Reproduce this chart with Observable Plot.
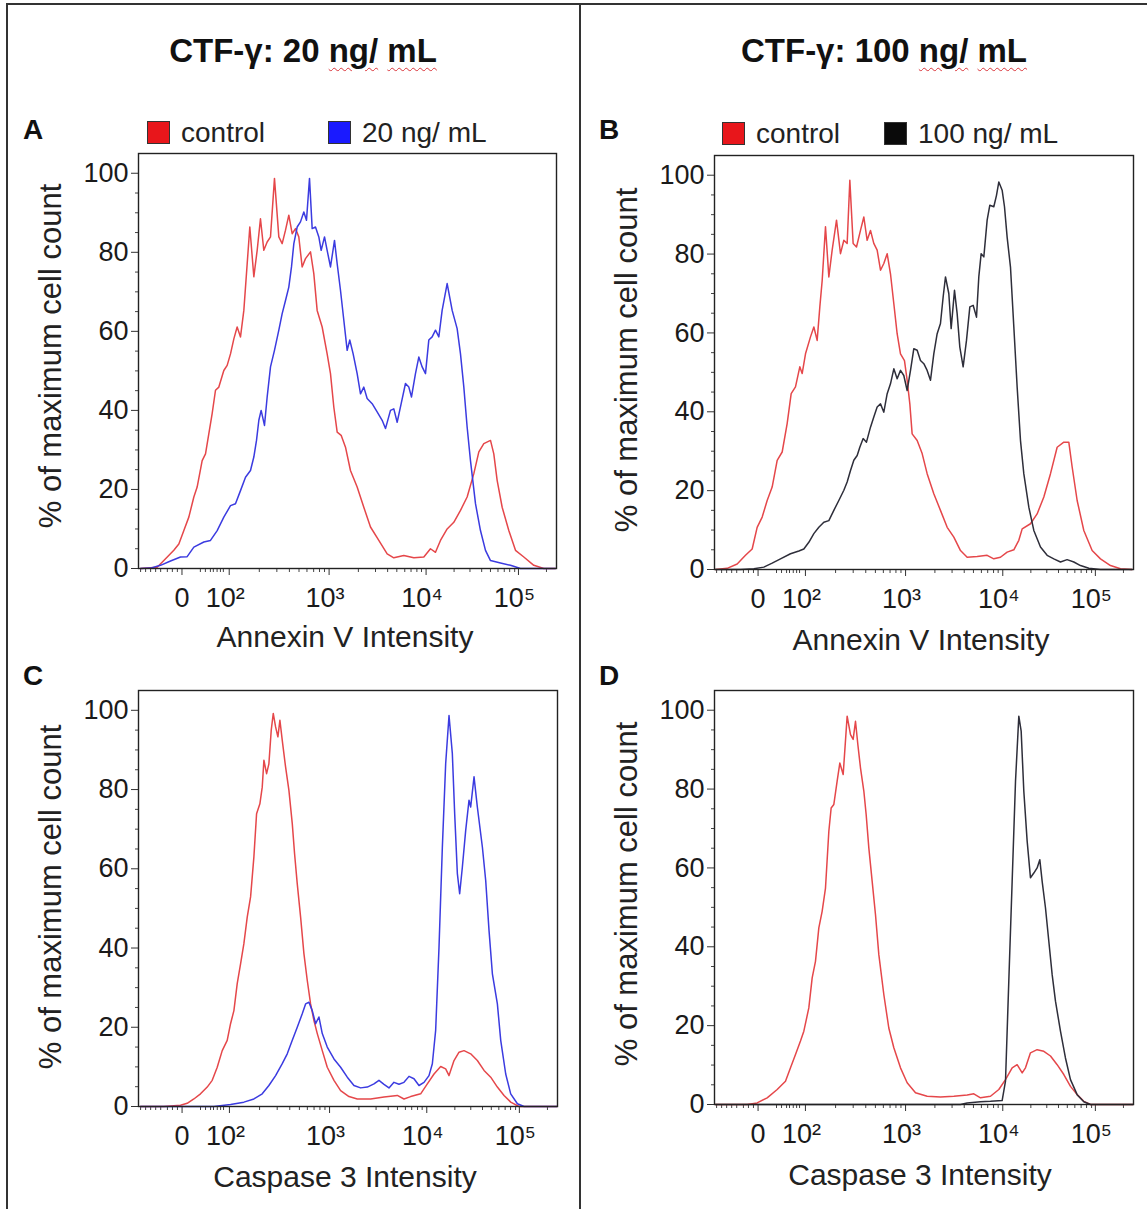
<!DOCTYPE html>
<html><head><meta charset="utf-8">
<script src="https://cdn.jsdelivr.net/npm/d3@7"></script>
<script src="https://cdn.jsdelivr.net/npm/@observablehq/plot@0.6"></script>
<style>
body{margin:0;background:#fff;}
#root{position:relative;width:1147px;height:1209px;background:#fff;font-family:"Liberation Sans",Arial,Helvetica,sans-serif;color:#111;overflow:hidden}
.abs{position:absolute;white-space:nowrap;line-height:1}
.ctr{transform:translate(-50%,-50%)}
.vctr{transform:translateY(-50%)}
.rot{transform:translate(-50%,-50%) rotate(-90deg)}
.title{font-weight:bold;font-size:33px}
.wavy{text-decoration:underline wavy #d9343a;text-decoration-thickness:1px;text-underline-offset:5px}
.letter{font-weight:bold;font-size:28px}
.leg{font-size:28px;color:#222}
.sw{position:absolute;width:23px;height:23px;border:1.5px solid #333;box-sizing:border-box}
.ytitle{font-size:31px;color:#222}
.xtitle{font-size:30px;color:#222}
.line{position:absolute;background:#333}
.plot{position:absolute}
</style></head><body><div id="root"></div>
<script>
// ---------- axis definitions (x in display channels 0..1000 of a biexponential axis) ----------
const xTickPos = [104, 217, 456, 688, 909];
const xTickLabels = ["0", "10²", "10³", "10⁴", "10⁵"];
const xMinorPos = [5, 17, 29, 41, 53, 69, 81, 93, 148, 160, 172, 179, 188, 196, 203,
  289, 331, 361, 384, 403, 419, 433, 445,
  526, 567, 596, 618, 637, 652, 666, 677,
  755, 793, 821, 842, 860, 875, 888, 900, 976];
const yMajor = [0, 20, 40, 60, 80, 100];
const yMinor = [5, 10, 15, 25, 30, 35, 45, 50, 55, 65, 70, 75, 85, 90, 95];

// ---------- panel titles / labels ----------
const panelTitles = ["CTF-γ: 20 ", "CTF-γ: 100 "];
const legendLabels = [["control", "20 ng/ mL"], ["control", "100 ng/ mL"]];
const xTitles = ["Annexin V Intensity", "Caspase 3 Intensity"];
const yTitle = "% of maximum cell count";
const colors = {control: "#e5474a", t20: "#3b3be0", t100: "#2e2e3a"};

// ---------- data: [channel, % of max] ----------
const annexinControl20 = [[5,0],[44.7,0.3],[60.6,2.0],[84.5,4.6],[96.5,6.2],[108.5,9.6],[120.4,13.0],[132.4,18.1],[140.3,20.6],[152.3,27.3],[160.3,29.0],[168.3,34.1],[176.2,39.2],[184.2,45.1],[192.2,45.9],[204.1,50.1],[212.1,51.4],[220.1,54.3],[228.1,58.1],[236,61.1],[244,58.6],[252,65.3],[260,77.1],[266.3,86.4],[275.9,73.8],[283.9,80.5],[291.8,88.5],[299.8,80.5],[307.8,82.6],[315.8,83.9],[325.3,98.7],[335.7,83.9],[343.7,82.2],[351.7,85.6],[359.6,89.4],[367.6,84.7],[375.6,86.0],[383.5,83.9],[391.5,76.3],[399.5,78.4],[411.5,80.1],[419.4,74.6],[427.4,65.3],[439.4,61.1],[451.3,54.3],[459.3,49.3],[467.3,40.8],[475.3,34.5],[484.8,33.7],[495.2,30.7],[507.1,24.8],[523.1,20.6],[539,15.5],[555,10.5],[574.9,7.1],[594.9,3.7],[610.8,2.7],[634.7,3.3],[658.7,2.7],[682.6,2.9],[698.5,5.0],[710.5,4.1],[722.4,7.1],[738.4,10.0],[754.3,11.7],[770.3,14.7],[786.2,18.1],[802.2,24.0],[814.2,29.5],[826.1,31.6],[842.1,32.4],[850,29.0],[858,22.3],[870,15.5],[885.9,9.6],[901.9,4.6],[921.8,2.9],[945.7,0.8],[969.6,0],[997.5,0]];
const annexinTreated20 = [[5,0],[28.7,0.1],[52.6,0.8],[76.6,1.9],[100.5,2.9],[116.4,3.0],[132.4,5.4],[156.3,6.7],[172.2,7.1],[188.2,9.6],[204.1,13.0],[220.1,15.9],[232,16.4],[244,19.7],[256,23.1],[267.9,24.8],[275.9,28.2],[282.3,32.4],[287.9,37.5],[293.4,40.0],[301.4,36.2],[307.8,43.4],[315.8,51.0],[325.3,55.2],[335.7,60.3],[343.7,64.5],[351.7,67.8],[359.6,71.2],[366,76.3],[371.6,82.2],[379.6,86.4],[387.5,87.7],[395.5,90.2],[401.9,88.1],[409.1,98.7],[415.5,86.0],[423.4,86.4],[431.4,83.9],[437,80.5],[445,83.9],[451.3,80.5],[459.3,76.3],[468.9,83.0],[475.3,77.1],[483.2,70.4],[491.2,62.8],[499.2,55.2],[505.5,57.8],[513.5,54.3],[523.1,49.3],[531.1,44.2],[539,45.9],[547,43.0],[559,41.7],[570.9,39.6],[582.9,37.5],[590.9,35.4],[602.8,40.0],[610.8,40.4],[618.8,37.0],[628.4,41.7],[638.7,46.8],[646.7,45.9],[653.1,43.4],[662.6,49.3],[670.6,53.5],[678.6,51.0],[686.6,49.3],[694.5,57.8],[702.5,58.6],[710.5,60.3],[718.5,58.6],[726.4,65.3],[738.4,72.1],[750.4,65.3],[762.3,60.7],[770.3,54.3],[778.3,45.9],[786.2,35.8],[794.2,27.3],[806.2,16.4],[818.1,9.6],[830.1,4.6],[842.1,2.0],[866,1.4],[889.9,0.8],[913.8,0],[997.5,0]];
const annexinControl100 = [[2.4,0],[30.2,0.3],[54.1,1.4],[74,3.6],[89.9,5.2],[101.8,10.7],[113.8,13.3],[125.7,17.5],[137.6,20.9],[149.6,27.7],[161.5,29.8],[173.4,37.0],[183,44.6],[193.3,46.3],[203.6,51.4],[209.2,49.7],[217.2,54.7],[229.1,59.0],[237.1,61.5],[245,58.1],[251.4,66.6],[257,73.3],[264.9,86.9],[272.9,74.2],[280.8,81.0],[291.2,88.6],[300.7,80.1],[308.7,83.5],[316.6,82.7],[323,98.7],[330.9,82.7],[338.9,81.8],[348.4,86.0],[356.4,89.4],[364.3,83.5],[372.3,86.0],[380.2,82.7],[388.2,81.0],[396.2,75.9],[404.1,77.6],[412.1,80.1],[420,75.0],[428,67.4],[435.9,59.8],[443.9,54.7],[453.4,53.0],[459.8,48.0],[466.2,42.0],[471.7,34.4],[483.7,32.7],[495.6,29.4],[507.5,24.3],[523.4,19.2],[539.3,15.0],[555.3,10.7],[571.2,8.2],[587.1,4.8],[603,3.1],[626.9,3.3],[650.7,3.6],[666.6,2.7],[682.5,3.1],[698.4,4.4],[714.4,5.0],[726.3,7.4],[734.3,10.3],[754.1,11.6],[770,14.1],[786,18.4],[801.9,24.3],[817.8,31.0],[833.7,32.3],[845.6,32.3],[853.6,26.0],[865.5,17.5],[881.4,9.9],[901.3,4.8],[921.2,2.7],[945.1,1.0],[969,0.2],[996.8,0]];
const annexinTreated100 = [[2.4,0],[62,0],[93.9,0.2],[117.7,0.6],[137.6,1.6],[157.5,2.7],[181.4,4.0],[201.3,4.7],[213.2,5.2],[225.1,6.9],[237.1,9.1],[249,10.7],[260.9,12.0],[272.9,12.4],[284.8,15.0],[296.7,17.5],[308.7,20.1],[316.6,22.2],[324.6,25.1],[332.5,27.7],[340.5,28.9],[346.8,31.0],[354.8,33.2],[362.7,32.3],[372.3,36.1],[380.2,38.7],[388.2,41.2],[396.2,42.0],[404.1,39.9],[412.1,44.6],[420,47.1],[428,50.9],[435.9,48.4],[443.9,50.5],[451.8,49.2],[459.8,45.4],[467.8,50.5],[475.7,56.0],[483.7,55.6],[491.6,53.0],[499.6,52.2],[507.5,50.5],[515.5,48.0],[523.4,54.7],[531.4,59.8],[539.3,62.4],[545.7,69.1],[551.3,74.2],[559.2,70.0],[564.8,61.1],[572.8,70.8],[579.1,64.9],[585.5,56.4],[593.4,51.4],[601.4,58.1],[609.4,66.6],[617.3,67.0],[625.3,64.0],[630.8,74.2],[636.4,80.1],[642.8,79.3],[650.7,88.6],[657.1,92.4],[666.6,92.0],[673,94.9],[678.6,98.3],[686.5,96.2],[692.1,92.0],[698.4,84.3],[706.4,76.7],[714.4,61.5],[722.3,46.3],[730.3,32.7],[738.2,24.3],[750.2,15.8],[762.1,9.9],[778,5.7],[793.9,3.6],[809.8,2.7],[825.7,1.9],[841.6,2.5],[857.6,1.9],[873.5,1.0],[893.4,0.3],[921.2,0],[996.8,0]];
const caspaseControl20 = [[4.8,0],[60.5,0],[100.3,0.3],[116.2,0.8],[132.1,1.9],[148,3.2],[164,4.9],[175.9,6.6],[187.9,9.9],[199.8,14.1],[211.7,16.7],[219.7,20.9],[227.7,24.2],[235.6,31.0],[243.6,36.0],[251.5,41.1],[259.5,47.8],[267.5,52.9],[275.4,63.0],[281.8,73.9],[289.7,76.4],[295.3,80.6],[299.3,87.4],[305.7,84.0],[311.2,86.5],[316.8,95.0],[321.6,99.2],[327.2,95.8],[332.7,93.3],[337.5,97.5],[343.1,92.4],[351,85.7],[359,79.8],[367,71.4],[372.5,63.8],[378.9,56.2],[386.9,47.8],[394.8,38.6],[402.8,31.8],[410.7,25.9],[418.7,21.7],[426.7,18.4],[438.6,14.1],[450.5,9.9],[466.5,6.6],[482.4,4.0],[502.3,2.5],[522.2,1.9],[554,1.9],[585.9,2.4],[617.7,2.8],[633.6,1.9],[649.5,2.5],[673.4,3.2],[689.3,5.7],[705.3,8.2],[721.2,10.1],[733.1,9.5],[741.1,7.8],[753,11.6],[765,13.7],[776.9,14.1],[792.8,13.3],[808.7,11.6],[824.7,9.1],[840.6,7.4],[856.5,4.9],[872.4,2.8],[888.3,1.1],[908.2,0],[999,0]];
const caspaseTreated20 = [[4.8,0],[179.9,0],[219.7,0.5],[251.5,1.1],[275.4,1.9],[295.3,3.2],[311.2,5.3],[327.2,7.8],[343.1,10.8],[355,13.3],[367,16.7],[378.9,20.0],[390.8,23.4],[398.8,25.9],[406.8,26.3],[414.7,24.2],[422.7,20.9],[430.6,22.6],[438.6,18.4],[450.5,15.0],[466.5,12.0],[482.4,9.9],[498.3,7.4],[514.2,5.3],[530.1,4.7],[546.1,4.9],[562,5.7],[573.9,6.6],[585.9,5.6],[597.8,4.7],[609.7,6.1],[621.7,5.6],[633.6,6.1],[645.6,7.6],[657.5,7.0],[669.4,5.3],[681.4,6.1],[693.3,7.8],[701.3,10.8],[709.2,19.2],[717.2,40.2],[725.2,65.5],[733.1,86.5],[741.1,98.7],[749,89.1],[754.6,73.9],[761,58.8],[766.5,53.7],[772.9,60.4],[780.9,69.7],[788.8,77.3],[792.8,75.6],[800.8,83.2],[808.7,75.6],[820.7,65.5],[828.6,57.1],[836.6,44.4],[844.6,33.5],[856.5,25.9],[864.5,16.7],[876.4,8.2],[888.3,3.2],[904.3,0.7],[920.2,0],[999,0]];
const caspaseControl100 = [[2.4,0],[78,0],[101.8,0.4],[125.7,1.7],[149.6,3.8],[169.4,5.9],[181.4,9.3],[193.3,12.7],[205.2,16.1],[213.2,18.6],[225.1,24.5],[233.1,32.1],[241,36.3],[249,44.8],[256.9,49.0],[264.9,54.9],[272.9,69.3],[278.4,75.2],[284.8,76.1],[292.7,82.0],[299.1,86.6],[307.1,83.7],[316.6,98.5],[324.6,93.8],[330.9,92.6],[336.5,97.2],[342.1,91.3],[348.4,85.4],[356.4,79.5],[362,73.5],[368.3,65.1],[376.3,56.6],[384.2,48.2],[392.2,38.0],[404.1,27.9],[416,19.4],[428,14.4],[443.9,9.3],[459.8,5.5],[479.7,3.0],[507.5,2.1],[539.3,1.9],[571.2,2.1],[603,2.4],[618.9,2.7],[634.8,1.7],[658.7,2.1],[678.6,3.8],[694.5,6.3],[710.4,9.3],[722.3,10.1],[734.3,8.0],[742.2,9.3],[754.1,13.1],[770,13.9],[786,13.5],[801.9,12.3],[817.8,10.1],[833.7,7.6],[849.6,4.6],[865.5,2.5],[881.4,0.8],[897.3,0],[999,0]];
const caspaseTreated100 = [[2.4,0],[587.1,0],[603,0.4],[634.8,0.7],[658.7,0.8],[686.5,1.0],[694.5,5.9],[702.4,31.3],[710.4,56.6],[718.4,82.0],[726.3,98.5],[731.9,94.7],[738.2,79.5],[746.2,66.8],[754.1,57.5],[762.1,58.7],[770,60.0],[776.4,62.1],[782,56.6],[789.9,49.9],[797.9,41.4],[805.8,33.0],[813.8,26.2],[825.7,18.6],[837.6,11.8],[849.6,6.3],[865.5,2.5],[881.4,0.7],[897.3,0],[999,0]];

const root = document.getElementById("root");
function el(tag, cls, css, text) {
  const e = document.createElement(tag);
  if (cls) e.className = cls;
  Object.assign(e.style, css || {});
  if (text != null) e.textContent = text;
  root.appendChild(e);
  return e;
}

// frame lines of the figure
el("div", "line", {left: "6px", top: "3px", width: "1141px", height: "2px"});
el("div", "line", {left: "6px", top: "3px", width: "2px", height: "1206px"});
el("div", "line", {left: "579px", top: "3px", width: "2px", height: "1206px"});

// column titles
[[303, 50], [884, 50]].forEach(([cx, cy], i) => {
  const t = el("div", "abs ctr title", {left: cx + "px", top: cy + "px"});
  t.appendChild(document.createTextNode(panelTitles[i]));
  const s1 = document.createElement("span"); s1.className = "wavy"; s1.textContent = "ng/"; t.appendChild(s1);
  t.appendChild(document.createTextNode(" "));
  const s2 = document.createElement("span"); s2.className = "wavy"; s2.textContent = "mL"; t.appendChild(s2);
});

// panel letters
[["A", 33, 130], ["B", 609, 130], ["C", 33, 676], ["D", 609, 676]].forEach(([l, x, y]) =>
  el("div", "abs ctr letter", {left: x + "px", top: y + "px"}, l));

// legends
const legendDefs = [
  {y: 121, items: [[147, "#e8161b", 181], [328, "#1a1aff", 362]], labels: legendLabels[0]},
  {y: 122, items: [[722, "#e8161b", 756], [884, "#0a0a0a", 918]], labels: legendLabels[1]}
];
legendDefs.forEach(L => {
  L.items.forEach(([sx, fill, tx], j) => {
    el("div", "sw", {left: sx + "px", top: L.y + "px", background: fill});
    el("div", "abs vctr leg", {left: tx + "px", top: (L.y + 12) + "px"}, L.labels[j]);
  });
});

// axis titles
[[50, 356], [626, 360], [50, 897], [626, 894]].forEach(([x, y]) =>
  el("div", "abs rot ytitle", {left: x + "px", top: y + "px"}, yTitle));
[[345, 637, 0], [921, 640, 0], [345, 1177, 1], [920, 1175, 1]].forEach(([x, y, k]) =>
  el("div", "abs ctr xtitle", {left: x + "px", top: y + "px"}, xTitles[k]));

// panels
const ML = 140, MT = 15, MR = 20, MB = 60;
const fmtX = d => xTickLabels[xTickPos.indexOf(d)];
function panel(fx, fy, fw, fh, series) {
  const chart = Plot.plot({
    width: fw + ML + MR, height: fh + MT + MB,
    marginLeft: ML, marginRight: MR, marginTop: MT, marginBottom: MB,
    x: {domain: [0, 1000]},
    y: {domain: [0, 105]},
    style: {fontFamily: '"Liberation Sans", Arial, Helvetica, sans-serif', fontSize: "27px", color: "#1a1a1a", background: "transparent", overflow: "visible"},
    marks: [
      Plot.axisX({ticks: xMinorPos, tickSize: 4, tickFormat: () => "", label: null, stroke: "#444"}),
      Plot.axisX({ticks: xTickPos, tickSize: 7, tickFormat: () => "", label: null, stroke: "#333"}),
      Plot.axisX({ticks: xTickPos.slice(0, 1), tickSize: 0, tickPadding: 19, tickFormat: fmtX, label: null, fontSize: 27}),
      Plot.axisX({ticks: xTickPos.slice(1), tickSize: 0, tickPadding: 19, dx: -4, tickFormat: fmtX, label: null, fontSize: 27}),
      Plot.axisY({ticks: yMinor, tickSize: 3, tickFormat: () => "", label: null, stroke: "#444"}),
      Plot.axisY({ticks: yMajor, tickSize: 7, tickPadding: 3, label: null, fontSize: 27, stroke: "#333"}),
      ...series.map(([data, color]) => Plot.line(data, {x: d => d[0], y: d => d[1], stroke: color, strokeWidth: 1.5, strokeLinejoin: "round"})),
      Plot.frame({stroke: "#222", strokeWidth: 1.4})
    ]
  });
  chart.classList.add("plot");
  chart.style.left = (fx - ML) + "px";
  chart.style.top = (fy - MT) + "px";
  root.appendChild(chart);
}
panel(138, 153, 418, 415, [[annexinControl20, colors.control], [annexinTreated20, colors.t20]]);
panel(714, 155, 419, 414, [[annexinControl100, colors.control], [annexinTreated100, colors.t100]]);
panel(138, 690, 419, 416, [[caspaseControl20, colors.control], [caspaseTreated20, colors.t20]]);
panel(714, 690, 419, 414, [[caspaseControl100, colors.control], [caspaseTreated100, colors.t100]]);
</script>
</body></html>
